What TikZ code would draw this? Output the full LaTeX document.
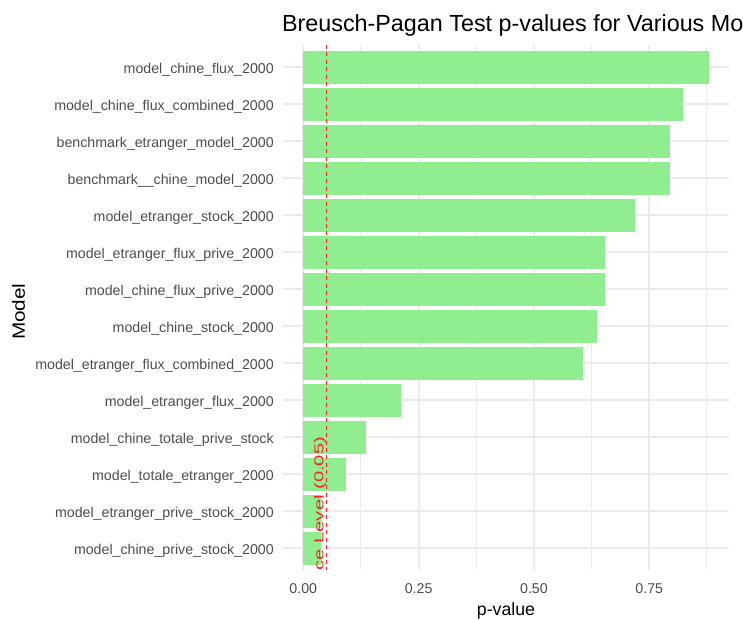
\documentclass[tikz,border=0pt]{standalone}
\usepackage{fontspec}
\setmainfont{Liberation Sans}
\usepackage{graphicx}

\definecolor{verdebarra}{HTML}{90EE90}
\definecolor{griglia}{HTML}{EBEBEB}
\definecolor{grigiotesto}{HTML}{4D4D4D}
\definecolor{rossolinea}{HTML}{FF2020}

\begin{document}
\begin{tikzpicture}[x=0.75pt,y=-0.75pt,
  etichetta/.style={inner sep=0pt,text=grigiotesto,font=\fontsize{10.65}{12}\selectfont},
  titoloasse/.style={inner sep=0pt,font=\fontsize{13.3}{15}\selectfont},
  gridmaj/.style={griglia,line width=1.5pt},
  gridmin/.style={griglia,line width=0.75pt}]

\useasboundingbox (0,0) rectangle (743,619);
\clip (0,0) rectangle (743,619);
\fill[white] (0,0) rectangle (743,619);

\foreach \v in {0.125,0.375,0.625,0.875}
\draw[gridmin] ({303.3+461.3*\v},44.8) -- ({303.3+461.3*\v},570.2);
\foreach \v in {0,0.25,0.5,0.75}
\draw[gridmaj] ({303.3+461.3*\v},44.8) -- ({303.3+461.3*\v},570.2);
\foreach \i in {1,...,14}
\draw[gridmaj] (283,{67+37*(\i-1)}) -- (729,{67+37*(\i-1)});

\foreach \i/\v/\nome in {
1/0.879/model\_chine\_flux\_2000,
2/0.824/model\_chine\_flux\_combined\_2000,
3/0.794/benchmark\_etranger\_model\_2000,
4/0.794/benchmark\_\_chine\_model\_2000,
5/0.719/model\_etranger\_stock\_2000,
6/0.653/model\_etranger\_flux\_prive\_2000,
7/0.653/model\_chine\_flux\_prive\_2000,
8/0.637/model\_chine\_stock\_2000,
9/0.606/model\_etranger\_flux\_combined\_2000,
10/0.211/model\_etranger\_flux\_2000,
11/0.135/model\_chine\_totale\_prive\_stock,
12/0.092/model\_totale\_etranger\_2000,
13/0.038/model\_etranger\_prive\_stock\_2000,
14/0.038/model\_chine\_prive\_stock\_2000}{
\fill[verdebarra] (303.3,{67+37*(\i-1)-16.5}) rectangle ({303.3+461.3*\v},{67+37*(\i-1)+16.5});
\node[etichetta,anchor=base east] (mod\i) at (274,{67+37*(\i-1)+6}) {\nome};
}

\foreach \v/\t [count=\k] in {0/0.00,0.25/0.25,0.5/0.50,0.75/0.75}
\node[etichetta,anchor=base] (xt\k) at ({303.3+461.3*\v},593.3) {\t};

\draw[rossolinea,line width=0.8pt,dash pattern=on 3pt off 2.6pt] (326.4,44.8) -- (326.4,570.2);

\begin{scope}
\clip (283,44.8) rectangle (729,570.2);
\node[rotate=90,anchor=base east,inner sep=0pt,text=rossolinea,font=\fontsize{9.75}{11}\selectfont] (soglia) at (323.3,436.7) {\scalebox{1.55}[1]{Significance Level (0.05)}};
\end{scope}

\node[anchor=base west,inner sep=0pt,font=\fontsize{17.5}{21}\selectfont] (titolo) at (281.8,31.7) {Breusch-Pagan Test p-values for Various Models};
\node[titoloasse,anchor=base] (assex) at (506,615.5) {p-value};
\node[titoloasse,rotate=90,anchor=base] (assey) at (25,311.7) {\scalebox{1.17}[1]{Model}};

\end{tikzpicture}
\end{document}
